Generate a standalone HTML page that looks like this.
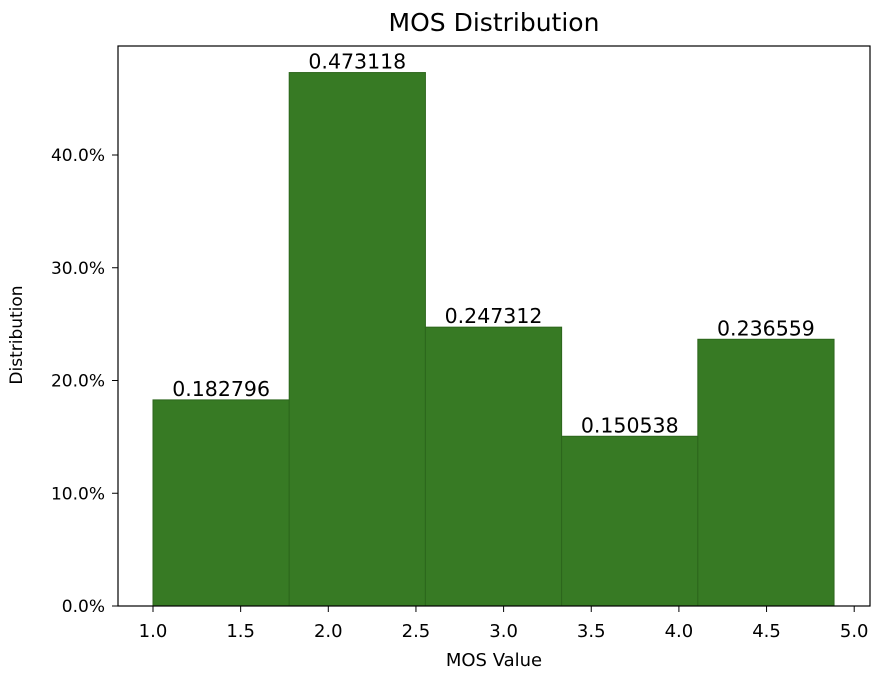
<!DOCTYPE html>
<html><head><meta charset="utf-8"><style>
html,body{margin:0;padding:0;background:#fff;}
svg{display:block;font-family:"DejaVu Sans","Liberation Sans",sans-serif;}
</style></head><body>
<svg id="chart" width="892" height="678">
<text x="494" y="31" font-size="25" text-anchor="middle" fill="#000">MOS Distribution</text>
<g id="bars"></g>
<g id="labels"></g>
<g id="xaxis"></g>
<g id="yaxis"></g>
<rect x="118" y="46" width="752" height="560" fill="none" stroke="#000" stroke-width="1.2"/>
<text x="494" y="666" font-size="18" text-anchor="middle">MOS Value</text>
<text transform="translate(22,335) rotate(-90)" font-size="17" text-anchor="middle">Distribution</text>
</svg>
<script>
const binEdges = [1.0, 1.777, 2.554, 3.331, 4.108, 4.885];
const values = [0.182796, 0.473118, 0.247312, 0.150538, 0.236559];
const valueLabels = ["0.182796","0.473118","0.247312","0.150538","0.236559"];
const xTicks = [1.0,1.5,2.0,2.5,3.0,3.5,4.0,4.5,5.0];
const xTickLabels = ["1.0","1.5","2.0","2.5","3.0","3.5","4.0","4.5","5.0"];
const yTicks = [0,0.1,0.2,0.3,0.4];
const yTickLabels = ["0.0%","10.0%","20.0%","30.0%","40.0%"];

const NS="http://www.w3.org/2000/svg";
const xs = v => 153 + (v-1)*175.3;
const ys = v => 606 - v*1127.5;
function mk(tag, attrs, parent){const e=document.createElementNS(NS,tag);for(const k in attrs)e.setAttribute(k,attrs[k]);parent.appendChild(e);return e;}
const gb=document.getElementById('bars'), gl=document.getElementById('labels'), gx=document.getElementById('xaxis'), gy=document.getElementById('yaxis');
values.forEach((v,i)=>{
  const x0=xs(binEdges[i]), x1=xs(binEdges[i+1]);
  const r=mk('rect',{x:x0,y:ys(v),width:x1-x0,height:ys(0)-ys(v),fill:'#377a24',stroke:'#2c661c','stroke-width':1},gb);
  
  
  const t=mk('text',{x:(x0+x1)/2,y:ys(v)-4,'font-size':20.5,'text-anchor':'middle'},gl);
  t.textContent=valueLabels[i];
  
  
});
xTicks.forEach((v,i)=>{
  const x=xs(v);
  mk('line',{x1:x,x2:x,y1:606,y2:612,stroke:'#000','stroke-width':1},gx);
  const t=mk('text',{x:x,y:637,'font-size':18,'text-anchor':'middle'},gx);
  t.textContent=xTickLabels[i];
  
  
});
yTicks.forEach((v,i)=>{
  const y=ys(v);
  mk('line',{x1:112,x2:118,y1:y,y2:y,stroke:'#000','stroke-width':1},gy);
  const t=mk('text',{x:105,y:y+6,'font-size':17,'text-anchor':'end'},gy);
  t.textContent=yTickLabels[i];
  
  
});
</script>
</body></html>
